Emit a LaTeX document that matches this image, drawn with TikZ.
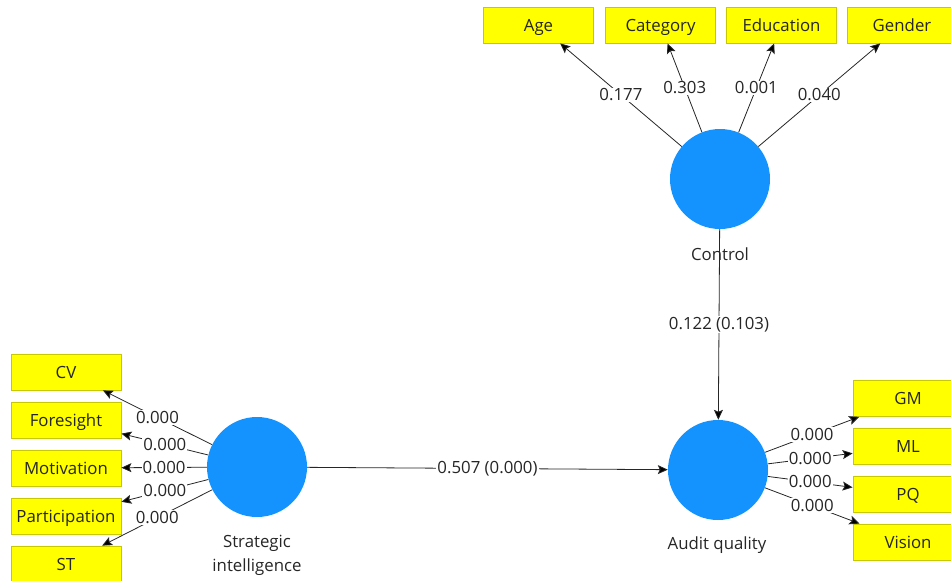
\documentclass[tikz,border=0pt]{standalone}
\usepackage{fontspec}
\setmainfont{Open Sans}
\usepackage{xcolor}
\usepackage{tikz}
\usetikzlibrary{arrows.meta}
\definecolor{lvfill}{HTML}{1493FF}
\definecolor{indfill}{HTML}{FFFF00}
\definecolor{indline}{HTML}{C8C800}
\definecolor{txt}{HTML}{262626}

\begin{document}
\begin{tikzpicture}[x=1pt,y=-1pt,
    font=\fontsize{16.8pt}{24pt}\selectfont, text=txt,
    latent/.style={circle,fill=lvfill,minimum size=100pt,inner sep=0pt},
    indicator/.style={rectangle,fill=indfill,draw=indline,line width=0.8pt,minimum width=110pt,minimum height=36pt,inner sep=0pt,text height=13pt,text depth=1pt},
    coef/.style={fill=white,inner sep=1pt},
    >={Stealth[length=10pt,width=9pt,inset=2pt]}]
  \useasboundingbox (0,0) rectangle (951,581);
  % latent variables
  \node[latent] (ctrl) at (720,179) {};
  \node[latent] (si) at (257,467) {};
  \node[latent] (aq) at (718,470) {};
  \node (ctrl-lbl) at (720,254) {Control};
  \node[align=center] (si-lbl) at (257,555) {Strategic\\intelligence};
  \node (aq-lbl) at (717,545) {Audit quality};
  % indicators
  \node[indicator] (age) at (538.5,25) {Age};
  \node[indicator] (cat) at (660.5,25) {Category};
  \node[indicator] (edu) at (781.5,25) {Education};
  \node[indicator] (gen) at (902,25) {Gender};
  \node[indicator] (cv) at (66,372) {CV};
  \node[indicator] (fore) at (66,420) {Foresight};
  \node[indicator] (mot) at (66,468) {Motivation};
  \node[indicator] (part) at (66,516) {Participation};
  \node[indicator] (st) at (66,564) {ST};
  \node[indicator] (gm) at (908,398.5) {GM};
  \node[indicator] (ml) at (908,446.5) {ML};
  \node[indicator] (pq) at (908,494.5) {PQ};
  \node[indicator] (vis) at (908,542) {Vision};
  \path[->,draw=txt,line width=0.8pt]
    (ctrl) edge node[coef] {0.177} (age)
    (ctrl) edge node[coef] {0.303} (cat)
    (ctrl) edge node[coef] {0.001} (edu)
    (ctrl) edge node[coef] {0.040} (gen)
    (si) edge node[coef] {0.000} (cv)
    (si) edge node[coef] {0.000} (fore)
    (si) edge node[coef] {0.000} (mot)
    (si) edge node[coef] {0.000} (part)
    (si) edge node[coef] {0.000} (st)
    (aq) edge node[coef] {0.000} (gm)
    (aq) edge node[coef] {0.000} (ml)
    (aq) edge node[coef] {0.000} (pq)
    (aq) edge node[coef] {0.000} (vis)
    (si) edge node[coef] {0.507 (0.000)} (aq)
    (ctrl) edge node[coef] {0.122 (0.103)} (aq);
\end{tikzpicture}
\end{document}
